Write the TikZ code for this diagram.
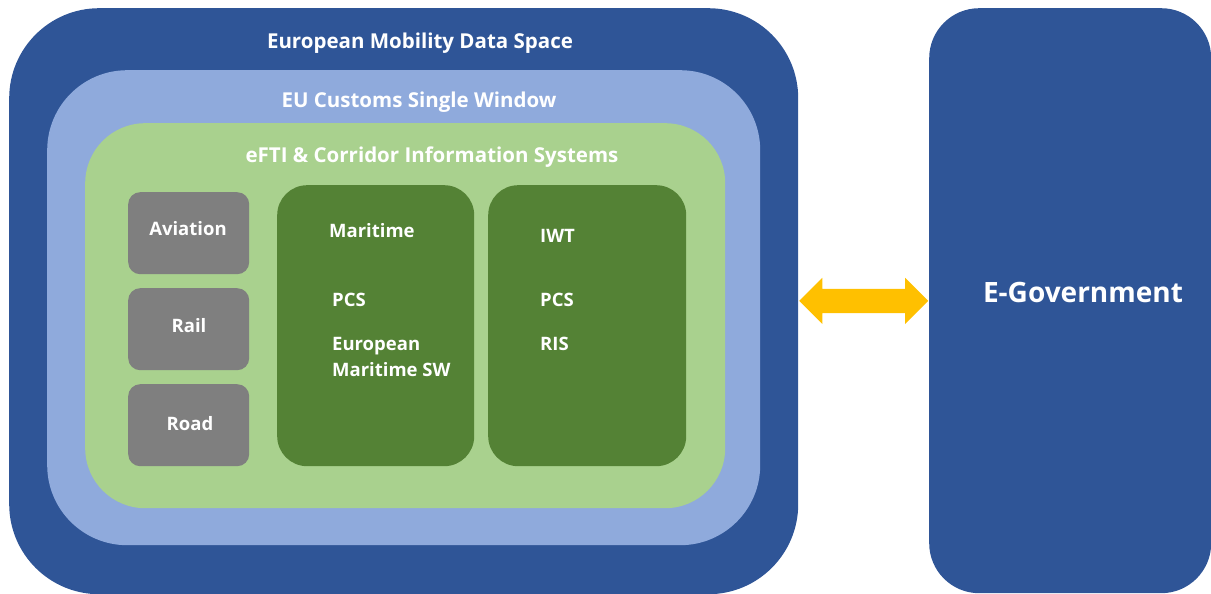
\documentclass[tikz,border=0pt]{standalone}
\usepackage{fontspec}
\setmainfont{Open Sans}
\usetikzlibrary{shapes.arrows}
\definecolor{mydarkblue}{RGB}{47,85,151}
\definecolor{mylightblue}{RGB}{143,170,220}
\definecolor{mylightgreen}{RGB}{169,209,142}
\definecolor{mydarkgreen}{RGB}{84,130,53}
\definecolor{mygray}{RGB}{127,127,127}
\definecolor{myyellow}{RGB}{255,192,0}
\tikzset{
  panel/.style={inner sep=0pt, anchor=north west, rounded corners=#1},
  boxtext/.style={text=white, font=\bfseries\fontsize{18.5}{26}\selectfont, inner sep=0pt},
  boxtitle/.style={boxtext, anchor=base, font=\bfseries\fontsize{20.5}{26}\selectfont},
}

\begin{document}
\begin{tikzpicture}[x=1pt,y=-1pt]
  \useasboundingbox (0,0) rectangle (1211,594);

  % nested panels
  \node[panel=90pt, fill=mydarkblue, minimum width=789pt, minimum height=586pt]
    (emds) at (9,8) {};
  \node[panel=80pt, fill=mylightblue, minimum width=713pt, minimum height=475pt]
    (eucsw) at (47,70) {};
  \node[panel=60pt, fill=mylightgreen, minimum width=640pt, minimum height=385pt]
    (efti) at (85,123) {};

  % right panel
  \node[panel=50pt, fill=mydarkblue, minimum width=282pt, minimum height=585pt]
    (egov) at (929,8) {};

  % gray modes
  \node[panel=12pt, fill=mygray, minimum width=121pt, minimum height=82pt]
    (aviation) at (128,192) {};
  \node[panel=12pt, fill=mygray, minimum width=121pt, minimum height=82pt]
    (rail) at (128,288) {};
  \node[panel=12pt, fill=mygray, minimum width=121pt, minimum height=82pt]
    (road) at (128,384) {};

  % green systems
  \node[panel=30pt, fill=mydarkgreen, minimum width=197pt, minimum height=281pt]
    (maritime) at (277,185) {};
  \node[panel=30pt, fill=mydarkgreen, minimum width=198pt, minimum height=281pt]
    (iwt) at (488,185) {};

  % titles
  \node[boxtitle] at (420,49) {European Mobility Data Space};
  \node[boxtitle] at (419,107) {EU Customs Single Window};
  \node[boxtitle] at (432,162) {eFTI \& Corridor Information Systems};
  \node[boxtitle, font=\bfseries\fontsize{28}{32}\selectfont]
    at (1083,302) {E-Government};

  % labels
  \node[boxtext, anchor=base] at (188,235) {Aviation};
  \node[boxtext, anchor=base] at (189,332) {Rail};
  \node[boxtext, anchor=base] at (190,430) {Road};

  \node[boxtext, anchor=base west] at (329,237) {Maritime};
  \node[boxtext, anchor=base west] at (332,306) {PCS};
  \node[boxtext, anchor=base west, align=left] at (332,376)
    {European\\Maritime SW};
  \node[boxtext, anchor=base west] at (540,242) {IWT};
  \node[boxtext, anchor=base west] at (540,306) {PCS};
  \node[boxtext, anchor=base west] at (540,350) {RIS};

  % link arrow
  \path (emds.east) -- (egov.west)
    node[midway, double arrow, fill=myyellow, inner xsep=0pt, inner ysep=12pt,
      double arrow head extend=11pt, minimum height=129pt] (link) {};

\end{tikzpicture}
\end{document}
